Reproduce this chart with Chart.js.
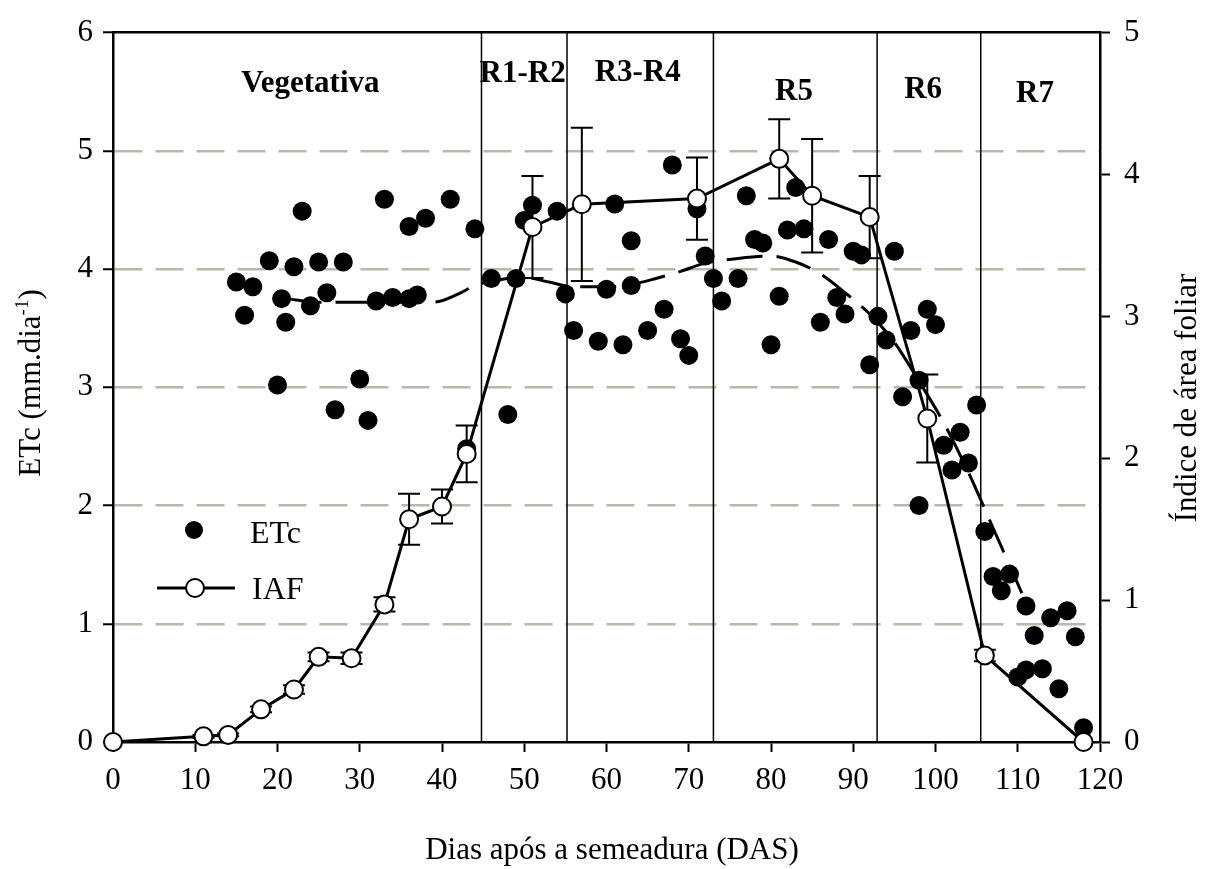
<!DOCTYPE html>
<html>
<head>
<meta charset="utf-8">
<script src="https://cdn.jsdelivr.net/npm/chart.js@4.4.1/dist/chart.umd.min.js"></script>
<style>
  html, body { margin: 0; padding: 0; background: #fff; }
</style>
</head>
<body>
<canvas id="chart" width="1205" height="869"></canvas>
<script>
// ETc daily values (left axis)
const etcDays = [15, 16, 17, 19, 20, 20.5, 21, 22, 23, 24, 25, 26, 27, 28, 30, 31, 32, 33, 34, 36, 36, 37, 38, 41, 43, 44,
  46, 48, 49, 50, 51, 54, 55, 56, 59, 60, 61, 62, 63, 63, 65, 67, 68, 69, 70, 71, 72, 73, 74, 76, 77, 78, 79, 80,
  81, 82, 83, 84, 86, 87, 88, 89, 90, 91, 92, 93, 94, 95, 96, 97, 98, 98, 99, 100, 101, 102, 103, 104, 105, 106,
  107, 108, 109, 110, 111, 111, 112, 113, 114, 115, 116, 117, 118];
const etcValues = [3.89, 3.61, 3.85, 4.07, 3.02, 3.75, 3.55, 4.02, 4.49, 3.69, 4.06, 3.80, 2.81, 4.06, 3.07, 2.72, 3.73, 4.59, 3.76, 4.36, 3.75, 3.78, 4.43, 4.59, 2.48, 4.34,
  3.92, 2.77, 3.92, 4.41, 4.54, 4.49, 3.79, 3.48, 3.39, 3.83, 4.55, 3.36, 4.24, 3.86, 3.48, 3.66, 4.88, 3.41, 3.27, 4.51, 4.11, 3.92, 3.73, 3.92, 4.62, 4.25, 4.22, 3.36,
  3.77, 4.33, 4.69, 4.34, 3.55, 4.25, 3.76, 3.62, 4.15, 4.12, 3.19, 3.60, 3.40, 4.15, 2.92, 3.48, 3.06, 2.00, 3.66, 3.53, 2.51, 2.30, 2.62, 2.36, 2.85, 1.78,
  1.40, 1.28, 1.42, 0.55, 1.15, 0.61, 0.90, 0.62, 1.05, 0.45, 1.11, 0.89, 0.12];

// fitted ETc trend (dashed)
const trendDays = [21, 25, 30, 35, 39, 42, 44, 47, 50, 53, 56, 60, 63, 66, 69, 72, 76, 80, 83, 86, 89, 92, 95, 98, 101, 104, 107, 110.5];
const trendValues = [3.75, 3.72, 3.72, 3.72, 3.72, 3.79, 3.86, 3.91, 3.93, 3.89, 3.85, 3.85, 3.87, 3.92, 3.98, 4.05, 4.09, 4.11, 4.06, 3.96, 3.80, 3.62, 3.38, 3.05, 2.70, 2.28, 1.81, 1.26];

// IAF (right axis) with error
const iafDays = [0, 11, 14, 18, 22, 25, 29, 33, 36, 40, 43, 51, 57, 71, 81, 85, 92, 99, 106, 118];
const iafValues = [0, 0.04, 0.05, 0.23, 0.37, 0.60, 0.59, 0.97, 1.57, 1.66, 2.03, 3.63, 3.79, 3.83, 4.11, 3.85, 3.70, 2.28, 0.61, 0];
const iafErr = [0, 0.01, 0.01, 0.02, 0.03, 0.03, 0.04, 0.05, 0.18, 0.12, 0.20, 0.36, 0.54, 0.29, 0.28, 0.40, 0.29, 0.31, 0.04, 0];

// phenological stages
const stageBounds = [44.8, 55.2, 73, 92.9, 105.5];
const stageNames = ['Vegetativa', 'R1-R2', 'R3-R4', 'R5', 'R6', 'R7'];

const xTicks = [0, 10, 20, 30, 40, 50, 60, 70, 80, 90, 100, 110, 120];
const yTicks = [0, 1, 2, 3, 4, 5, 6];
const y2Ticks = [0, 1, 2, 3, 4, 5];

const FONT = '"Liberation Serif", "Times New Roman", serif';

const pts = (xs, ys) => xs.map((d, i) => ({ x: d, y: ys[i] }));

const stagePlugin = {
  id: 'stages',
  beforeDatasetsDraw(chart) {
    const { ctx, chartArea: a, scales: { x, y2 } } = chart;
    ctx.save();
    ctx.strokeStyle = '#000';
    ctx.lineWidth = 1.5;
    stageBounds.forEach(d => {
      const px = x.getPixelForValue(d);
      ctx.beginPath();
      ctx.moveTo(px, a.top);
      ctx.lineTo(px, a.bottom);
      ctx.stroke();
    });
    // error bars for IAF
    ctx.lineWidth = 2;
    iafDays.forEach((d, i) => {
      const e = iafErr[i];
      if (!e) return;
      const px = x.getPixelForValue(d);
      const t = y2.getPixelForValue(iafValues[i] + e);
      const b = y2.getPixelForValue(iafValues[i] - e);
      ctx.beginPath();
      ctx.moveTo(px, t); ctx.lineTo(px, b);
      ctx.moveTo(px - 11, t); ctx.lineTo(px + 11, t);
      ctx.moveTo(px - 11, b); ctx.lineTo(px + 11, b);
      ctx.stroke();
    });
    ctx.restore();
  },
  afterDatasetsDraw(chart, args, opts) {
    const { ctx, scales: { x, y } } = chart;
    ctx.save();
    ctx.fillStyle = '#000';
    // stage names
    ctx.font = 'bold 31px ' + FONT;
    ctx.textAlign = 'center';
    ctx.textBaseline = 'alphabetic';
    stageNames.forEach((s, i) => {
      const p = opts.labelPos[i];
      ctx.fillText(s, x.getPixelForValue(p[0]), y.getPixelForValue(p[1]));
    });

    // legend
    ctx.font = '32px ' + FONT;
    ctx.textAlign = 'left';
    ctx.beginPath();
    ctx.arc(194, 530, 9, 0, Math.PI * 2);
    ctx.fill();
    ctx.fillText('ETc', 250, 543);
    ctx.lineWidth = 3;
    ctx.strokeStyle = '#000';
    ctx.beginPath();
    ctx.moveTo(157, 588); ctx.lineTo(235, 588);
    ctx.stroke();
    ctx.beginPath();
    ctx.arc(195, 588, 9, 0, Math.PI * 2);
    ctx.fillStyle = '#fff';
    ctx.fill();
    ctx.lineWidth = 2;
    ctx.stroke();
    ctx.fillStyle = '#000';
    ctx.fillText('IAF', 252, 599);

    // axis titles
    ctx.font = '31px ' + FONT;
    ctx.textAlign = 'center';
    ctx.fillText('Dias após a semeadura (DAS)', 612, 859);

    // left title with superscript
    ctx.save();
    ctx.translate(30, 383);
    ctx.rotate(-Math.PI / 2);
    const big = '31px ' + FONT, small = '19px ' + FONT;
    ctx.textAlign = 'left';
    ctx.font = big;
    const w1 = ctx.measureText('ETc (mm.dia').width;
    const w3 = ctx.measureText(')').width;
    ctx.font = small;
    const w2 = ctx.measureText('-1').width;
    let sx = -(w1 + w2 + w3) / 2;
    ctx.font = big;
    ctx.fillText('ETc (mm.dia', sx, 10);
    ctx.font = small;
    ctx.fillText('-1', sx + w1, -2);
    ctx.font = big;
    ctx.fillText(')', sx + w1 + w2, 10);
    ctx.restore();

    ctx.save();
    ctx.translate(1186, 398);
    ctx.rotate(-Math.PI / 2);
    ctx.font = big;
    ctx.textAlign = 'center';
    ctx.fillText('Índice de área foliar', 0, 10);
    ctx.restore();

    ctx.restore();
  }
};

const tickFont = { family: FONT, size: 31 };

new Chart(document.getElementById('chart'), {
  type: 'scatter',
  data: {
    datasets: [
      {
        label: 'IAF',
        data: pts(iafDays, iafValues),
        yAxisID: 'y2',
        showLine: true,
        borderColor: '#000',
        borderWidth: 3,
        pointRadius: 9,
        pointBackgroundColor: '#fff',
        pointBorderColor: '#000',
        pointBorderWidth: 2,
        clip: false,
        order: 0
      },
      {
        label: 'trend',
        data: pts(trendDays, trendValues),
        yAxisID: 'y',
        showLine: true,
        borderColor: '#000',
        borderWidth: 3,
        borderDash: [36, 14],
        pointRadius: 0,
        tension: 0.4,
        cubicInterpolationMode: 'monotone',
        order: 1
      },
      {
        label: 'ETc',
        data: pts(etcDays, etcValues),
        yAxisID: 'y',
        pointRadius: 9.5,
        pointBackgroundColor: '#000',
        pointBorderWidth: 0,
        clip: false,
        order: 2
      }
    ]
  },
  options: {
    responsive: false,
    animation: false,
    devicePixelRatio: 1,
    layout: { padding: 0 },
    plugins: {
      legend: { display: false },
      tooltip: { enabled: false },
      stages: {
        labelPos: [[24, 5.50], [49.8, 5.58], [63.8, 5.59], [82.8, 5.43], [98.5, 5.45], [112.1, 5.41]]
      }
    },
    scales: {
      x: {
        type: 'linear', position: 'bottom', min: 0, max: 120,
        afterBuildTicks: s => { s.ticks = xTicks.map(v => ({ value: v })); },
        afterFit: s => { s.height = 127; },
        ticks: { font: tickFont, color: '#000', padding: 10, maxRotation: 0 },
        grid: { drawOnChartArea: false, tickLength: 10, tickColor: '#000', tickWidth: 2 },
        border: { color: '#000', width: 2.5 }
      },
      xTop: {
        type: 'linear', position: 'top', min: 0, max: 120,
        afterFit: s => { s.height = 28; },
        ticks: { display: false },
        grid: { drawOnChartArea: false, drawTicks: false },
        border: { color: '#000', width: 2.5 }
      },
      y: {
        type: 'linear', position: 'left', min: 0, max: 6,
        afterBuildTicks: s => { s.ticks = yTicks.map(v => ({ value: v })); },
        afterFit: s => { s.width = 113; },
        ticks: { font: tickFont, color: '#000', padding: 10 },
        grid: {
          color: c => (c.tick && c.tick.value > 0 && c.tick.value < 6) ? '#b8b8ab' : 'rgba(0,0,0,0)',
          lineWidth: 2.5,
          tickLength: 10, tickColor: '#000', tickWidth: 2
        },
        border: { color: '#000', width: 2.5, dash: [28, 13] }
      },
      y2: {
        type: 'linear', position: 'right', min: 0, max: 5,
        afterBuildTicks: s => { s.ticks = y2Ticks.map(v => ({ value: v })); },
        afterFit: s => { s.width = 105; },
        ticks: { font: tickFont, color: '#000', padding: 14 },
        grid: { drawOnChartArea: false, tickLength: 10, tickColor: '#000', tickWidth: 2 },
        border: { color: '#000', width: 2.5 }
      }
    }
  },
  plugins: [stagePlugin]
});
</script>
</body>
</html>
